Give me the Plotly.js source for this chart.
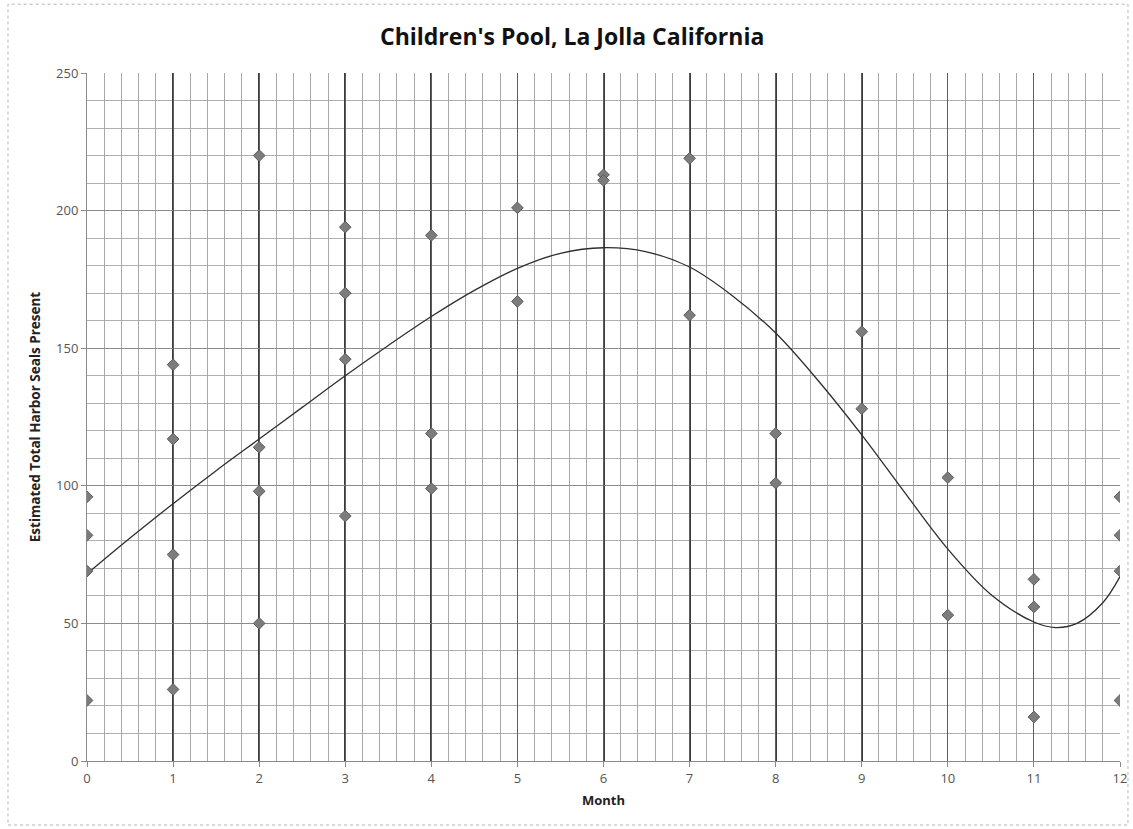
<!DOCTYPE html>
<html>
<head>
<meta charset="utf-8">
<script src="https://cdn.plot.ly/plotly-3.0.1.min.js"></script>
<style>html,body{margin:0;padding:0;background:#fff;}#chart{width:1133px;height:829px;}</style>
</head>
<body>
<div id="chart"></div>
<script>
// Observed counts (month, estimated seals)
const obsMonth = [0,0,0,0, 1,1,1,1, 2,2,2,2, 3,3,3,3, 4,4,4, 5,5, 6,6, 7,7, 8,8, 9,9, 10,10, 11,11,11, 12,12,12,12];
const obsSeals = [96,82,69,22, 144,117,75,26, 220,114,98,50, 194,170,146,89, 191,119,99, 201,167, 213,211, 219,162, 119,101, 156,128, 103,53, 66,56,16, 96,82,69,22];

// Trendline
const trendMonth = [0, 0.5, 1, 1.5, 2, 2.5, 3, 3.5, 4, 4.5, 5, 5.5, 6, 6.5, 7, 7.5, 8, 8.5, 9, 9.5, 10, 10.5, 11, 11.25, 11.5, 11.8, 12];
const trendSeals = [68, 81, 93.5, 105.5, 117, 128.5, 140, 151, 161.5, 171, 179, 184.5, 186.5, 185, 179.5, 169, 155.5, 138, 118.5, 97.5, 77, 60.5, 50.5, 48.5, 50, 57.5, 67];

// Tick / gridline positions
const xTicks = [0,1,2,3,4,5,6,7,8,9,10,11,12];
const xHeavy = [1,2,3,4,6,7,8,9];
const yTicks = [0,50,100,150,200,250];
const xMinor = [];
for (let k = 1; k < 60; k++) { if (k % 5 !== 0) xMinor.push(Math.round(k * 2) / 10); }

const FONT = 'Open Sans, Liberation Sans, sans-serif';

const traces = [
  {
    x: trendMonth, y: trendSeals, type: 'scatter', mode: 'lines',
    xaxis: 'x', yaxis: 'y',
    line: {shape: 'spline', smoothing: 1.0, color: '#2e2e2e', width: 1.3},
    hoverinfo: 'skip', showlegend: false
  },
  {
    x: obsMonth, y: obsSeals, type: 'scatter', mode: 'markers',
    xaxis: 'x2', yaxis: 'y',
    marker: {symbol: 'diamond', size: 9, color: '#7c7c7c', line: {color: '#5c5c5c', width: 1}},
    hoverinfo: 'x+y', showlegend: false
  }
];

const layout = {
  width: 1133, height: 829,
  margin: {l: 87, r: 13, t: 73, b: 68},
  paper_bgcolor: '#ffffff', plot_bgcolor: '#ffffff',
  title: {
    text: "Children's Pool, La Jolla California",
    font: {family: FONT, size: 23, color: '#111', weight: 'bold'},
    x: 0.505, xanchor: 'center', y: 0.955, yanchor: 'middle'
  },
  // heavy month lines
  xaxis: {
    range: [0, 12], tickvals: xHeavy,
    showticklabels: false, ticks: '', showline: false, zeroline: false,
    showgrid: true, gridcolor: '#3c3c3c', gridwidth: 2
  },
  // labelled month axis with lighter grid
  xaxis2: {
    overlaying: 'x', side: 'bottom',
    range: [0, 12], tickvals: xTicks, ticktext: xTicks.map(String),
    showgrid: true, gridcolor: '#5e5e5e', gridwidth: 1,
    minor: {tickmode: 'array', tickvals: xMinor, showgrid: true, gridcolor: '#a8a8a8', gridwidth: 1, ticks: ''},
    showline: true, linecolor: '#8a8a8a', linewidth: 1,
    ticks: 'outside', ticklen: 5, tickcolor: '#8a8a8a',
    tickfont: {family: FONT, size: 13, color: '#555'},
    zeroline: false,
    title: {text: 'Month', font: {family: FONT, size: 13, color: '#222', weight: 'bold'}, standoff: 10}
  },
  yaxis: {
    range: [0, 250], tickvals: yTicks, ticktext: yTicks.map(String),
    showgrid: true, gridcolor: '#8c8c8c', gridwidth: 1,
    minor: {dtick: 10, showgrid: true, gridcolor: '#b0b0b0', gridwidth: 1, ticks: ''},
    showline: true, linecolor: '#8a8a8a', linewidth: 1,
    ticks: 'outside', ticklen: 5, tickcolor: '#8a8a8a',
    tickfont: {family: FONT, size: 13, color: '#555'},
    zeroline: false,
    title: {text: 'Estimated Total Harbor Seals Present', font: {family: FONT, size: 13.5, color: '#222', weight: 'bold'}, standoff: 12}
  },
  shapes: [
    {type: 'rect', xref: 'paper', yref: 'paper', x0: -0.0765, x1: 1.0077, y0: -0.093, y1: 1.1,
     line: {color: '#b5b5b5', width: 1, dash: 'dot'}, fillcolor: 'rgba(0,0,0,0)', layer: 'below'}
  ]
};

Plotly.newPlot('chart', traces, layout, {staticPlot: true, displayModeBar: false});
</script>
</body>
</html>
